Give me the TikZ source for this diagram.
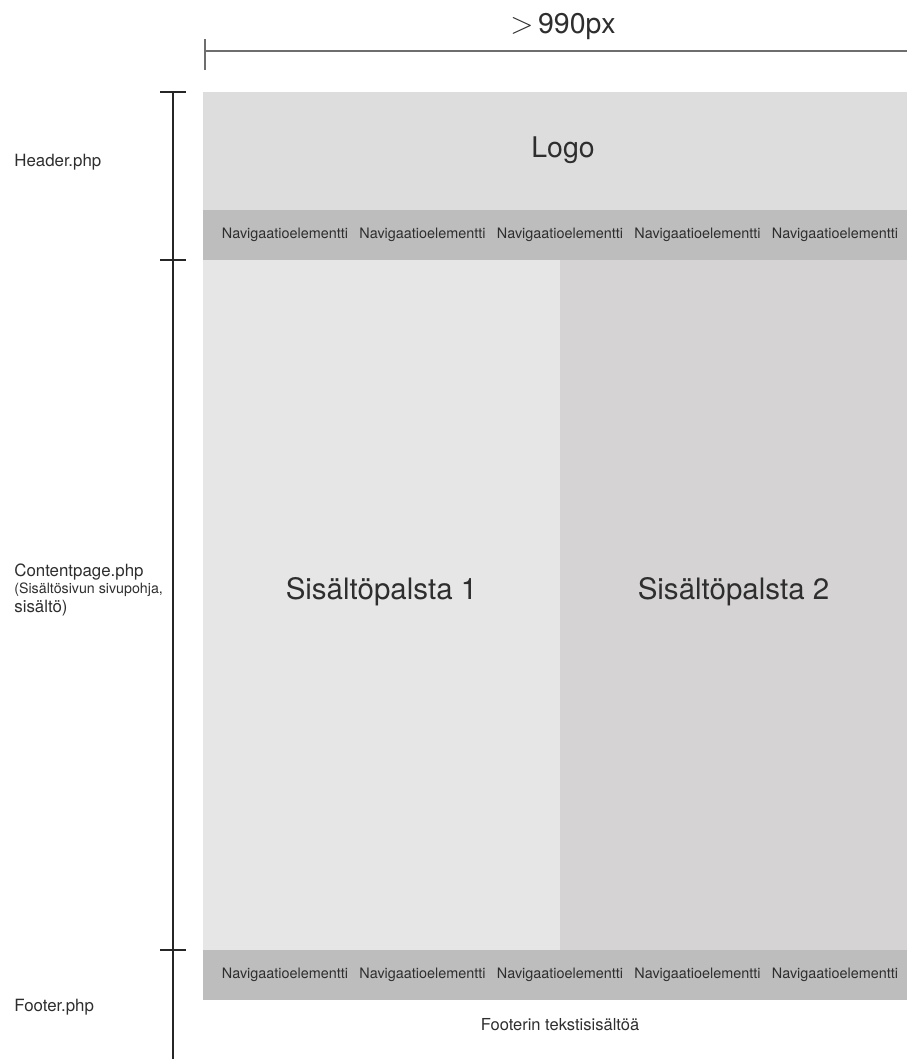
\documentclass[tikz,border=0pt]{standalone}
\usepackage{fontspec}
\setmainfont{TeX Gyre Heros}
\definecolor{headgray}{HTML}{DDDDDD}
\definecolor{navgray}{HTML}{BDBDBD}
\definecolor{colone}{HTML}{E6E6E6}
\definecolor{coltwo}{HTML}{D5D3D4}
\definecolor{textgray}{HTML}{2E2E2E}
\definecolor{rulegray}{HTML}{6E6E6E}

\begin{document}
\begin{tikzpicture}[x=0.02cm, y=-0.02cm,
  navtext/.style={font=\fontsize{8.2}{9}\selectfont, text=textgray, inner sep=0pt},
  bigtext/.style={font=\fontsize{16.2}{18}\selectfont, text=textgray, inner sep=0pt},
  sidetext/.style={font=\fontsize{9.6}{11}\selectfont, text=textgray, inner sep=0pt, anchor=west},
  vrule/.style={draw=black!85, line width=0.8pt},
  hrule/.style={draw=rulegray, line width=1pt}]
  \useasboundingbox (0,0) rectangle (907,1059);
  \fill[headgray] (203,92) rectangle (907,210);
  \fill[navgray] (203,210) rectangle (907,260);
  \fill[colone] (203,260) rectangle (560,950);
  \fill[coltwo] (560,260) rectangle (907,950);
  \fill[navgray] (203,950) rectangle (907,1000);
  \coordinate (wstart) at (205,51);
  \coordinate (wend) at (907,51);
  \draw[hrule] (wstart) -- (wend);
  \draw[hrule] (205,39) -- (205,70);
  \node[bigtext] (width) at (563,27) {$>$\,990px};
  \coordinate (vtop) at (173,92);
  \coordinate (vbottom) at (173,1059);
  \draw[vrule] (vtop) -- (vbottom);
  \foreach \y in {92,260,950}
    \draw[vrule] (160,\y) -- (186,\y);
  \node[bigtext] (logo) at (563,150) {Logo};
  \foreach \x [count=\i] in {285,422.5,560,697.5,835} {
    \node[navtext] (topnav\i) at (\x,235) {Navigaatioelementti};
    \node[navtext] (footnav\i) at (\x,975) {Navigaatioelementti};
  }
  \node[bigtext, font=\fontsize{16.8}{18}\selectfont] (colA) at (381.5,592) {Sisältöpalsta 1};
  \node[bigtext, font=\fontsize{16.8}{18}\selectfont] (colB) at (733.5,592) {Sisältöpalsta 2};
  \node[navtext, font=\fontsize{9.4}{11}\selectfont] (foottext) at (560,1025) {Footerin tekstisisältöä};
  \node[sidetext] (header) at (14,162) {Header.php};
  \node[sidetext, anchor=north west, align=left] (content) at (14,564)
    {Contentpage.php\\[-1.5pt]\fontsize{8.1}{9.3}\selectfont(Sisältösivun sivupohja,\\sisältö)};
  \node[sidetext] (footer) at (14,1007) {Footer.php};
\end{tikzpicture}
\end{document}
